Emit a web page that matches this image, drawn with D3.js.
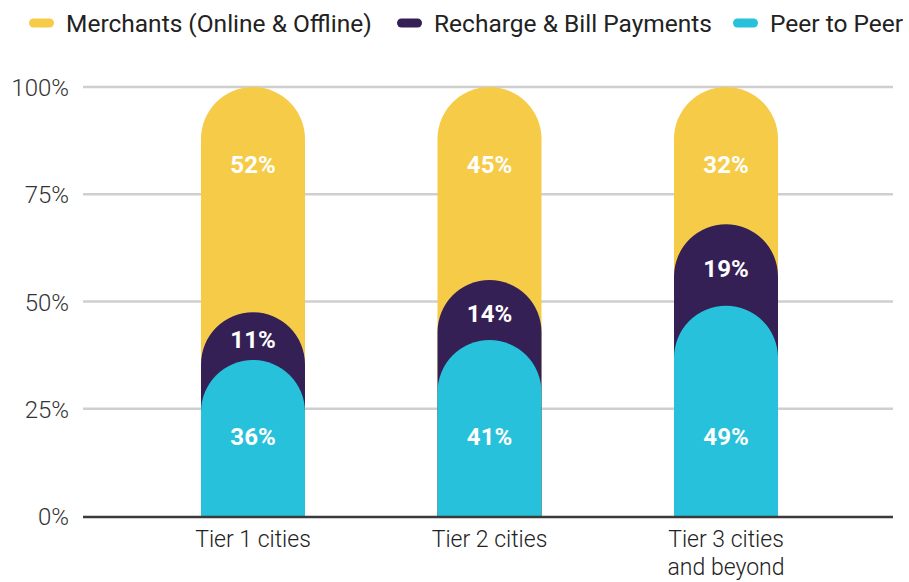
<!DOCTYPE html>
<html><head><meta charset="utf-8">
<script src="https://cdn.jsdelivr.net/npm/d3@7"></script>
<style>
html,body{margin:0;padding:0;background:#fff;}
svg{display:block;font-family:Roboto, "Noto Sans", sans-serif;}
</style></head>
<body>
<svg id="chart" width="909" height="582"></svg>
<script>
const categories = [["Tier 1 cities"], ["Tier 2 cities"], ["Tier 3 cities", "and beyond"]];
const seriesNames = ["Peer to Peer", "Recharge & Bill Payments", "Merchants (Online & Offline)"];
const peerToPeer = [36, 41, 49];
const recharge = [11, 14, 19];
const merchants = [52, 45, 32];
const yTicks = [0, 25, 50, 75, 100];
const legendOrder = ["Merchants (Online & Offline)", "Recharge & Bill Payments", "Peer to Peer"];

const colors = {
  "Merchants (Online & Offline)": "#F6CB48",
  "Recharge & Bill Payments": "#352056",
  "Peer to Peer": "#28C1DB"
};

const svg = d3.select("#chart");
const catKeys = categories.map(c => c.join(" "));
const x = d3.scalePoint().domain(catKeys).range([253, 726]);
const y = d3.scaleLinear().domain([0, 100]).range([516, 87]);
const barW = 104, r = barW / 2;

// gridlines
svg.append("g").selectAll("line").data(yTicks.filter(d => d > 0)).join("line")
  .attr("x1", 83).attr("x2", 893)
  .attr("y1", d => y(d)).attr("y2", d => y(d))
  .attr("stroke", "#cfcfcf").attr("stroke-width", 2.5);

// y axis labels
const yAxis = d3.axisLeft(y).tickValues(yTicks).tickFormat(d => d + "%").tickSize(0).tickPadding(0);
const ya = svg.append("g").attr("transform", "translate(69,0)").call(yAxis);
ya.select(".domain").remove();
ya.selectAll("text").attr("font-size", 24).attr("font-weight", 300).attr("fill", "#333")
  .attr("font-family", "Roboto, sans-serif").attr("dy", "0.36em");

// stacked values (normalised to 100%)
const rows = catKeys.map((k, i) => ({ key: k, "Peer to Peer": peerToPeer[i], "Recharge & Bill Payments": recharge[i], "Merchants (Online & Offline)": merchants[i] }));
const stack = d3.stack().keys(seriesNames).offset(d3.stackOffsetExpand);
const stacked = stack(rows);
const pct = v => v * 100;

function capPath(cx, top, base) {
  const x0 = cx - r, x1 = cx + r;
  const p = d3.path();
  p.moveTo(x0, base);
  p.lineTo(x0, top + r);
  p.arc(cx, top + r, r, Math.PI, 0);
  p.lineTo(x1, base);
  p.closePath();
  return p.toString();
}

// draw back to front: merchants (top) first
const drawOrder = [...stacked].reverse();
drawOrder.forEach(s => {
  svg.append("g").selectAll("path").data(s).join("path")
    .attr("d", d => capPath(x(d.data.key), y(pct(d[1])), y(0)))
    .attr("fill", colors[s.key]);
});

// value labels
const labelY = {
  "Peer to Peer": d => y(18.5),
  "Recharge & Bill Payments": d => y(pct(d[0] + d[1]) / 2) + 3,
  "Merchants (Online & Offline)": d => y(82)
};
stacked.forEach(s => {
  svg.append("g").selectAll("text").data(s).join("text")
    .attr("x", d => x(d.data.key))
    .attr("y", d => labelY[s.key](d))
    .attr("dy", "0.36em")
    .attr("text-anchor", "middle")
    .attr("font-size", 24).attr("font-weight", 700).attr("fill", "#fff")
    .text(d => d.data[s.key] + "%");
});

// x axis line
svg.append("line").attr("x1", 83).attr("x2", 893).attr("y1", y(0) + 1).attr("y2", y(0) + 1)
  .attr("stroke", "#3a3a3a").attr("stroke-width", 2.5);

// category labels
const cg = svg.append("g").selectAll("text").data(categories).join("text")
  .attr("x", d => x(d.join(" ")))
  .attr("y", 547)
  .attr("text-anchor", "middle")
  .attr("font-size", 23).attr("font-weight", 300).attr("fill", "#222");
cg.selectAll("tspan").data(d => d).join("tspan")
  .attr("x", function() { return d3.select(this.parentNode).attr("x"); })
  .attr("dy", (d, i) => i === 0 ? 0 : 28)
  .text(d => d);

// legend
const legendX = [29, 397, 733];
const lg = svg.append("g").selectAll("g").data(legendOrder).join("g")
  .attr("transform", (d, i) => `translate(${legendX[i]},23)`);
lg.append("rect").attr("x", 0).attr("y", -4.5).attr("width", 25).attr("height", 9).attr("rx", 4.5)
  .attr("fill", d => colors[d]);
lg.append("text").attr("x", 37).attr("dy", "0.36em")
  .attr("font-size", 24.5).attr("font-weight", 400).attr("fill", "#222")
  .text(d => d);
</script>
</body></html>
